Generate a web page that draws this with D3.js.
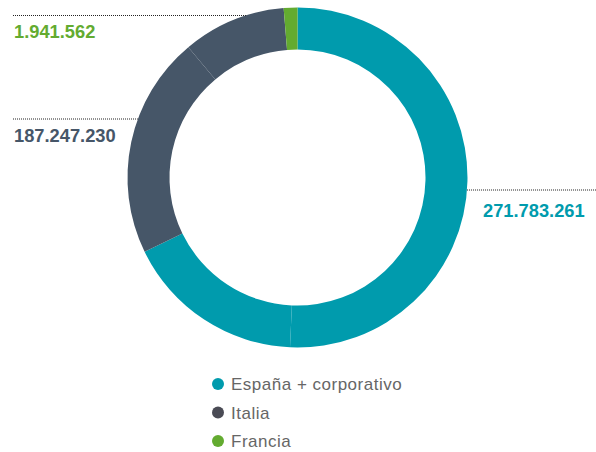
<!DOCTYPE html>
<html>
<head>
<meta charset="utf-8">
<script src="https://cdn.jsdelivr.net/npm/d3@7"></script>
<style>
  html, body { margin: 0; padding: 0; background: #fff; }
  svg { display: block; }
</style>
</head>
<body>
<svg id="chart" width="596" height="452"></svg>
<script>
// categories and totals shown in the labels
var categories = ["España + corporativo", "Italia", "Francia"];
var totals = [271783261, 187247230, 1941562];
var colors = ["#009bad", "#465668", "#63ab30"];
var legendColors = ["#009bad", "#4a4b55", "#63ab30"];

// the ring is drawn from sub-slices (share of the circle, in %)
var sliceCategory = [0, 0, 1, 1, 2];
var sliceShare = [50.7, 17.1, 21.1, 9.8, 1.3];

var svg = d3.select("#chart");
var cx = 297.5, cy = 177.5, outerR = 170, innerR = 128;

var es = d3.formatLocale({decimal: ",", thousands: ".", grouping: [3], currency: ["", " €"]});
var fmt = es.format(",");

var slices = sliceShare.map(function(v, i) { return {share: v, cat: sliceCategory[i]}; });
var pie = d3.pie().sort(null).value(function(d) { return d.share; });
var arc = d3.arc().innerRadius(innerR).outerRadius(outerR);

var ring = svg.append("g").attr("transform", "translate(" + cx + "," + cy + ")");
ring.selectAll("path")
    .data(pie(slices))
    .enter().append("path")
    .attr("d", arc)
    .attr("fill", function(d) { return colors[d.data.cat]; });

// leader lines + value labels
var labelSpec = [
  {cat: 0, lineY: 190, side: "right", textX: 483, textY: 216.5},
  {cat: 1, lineY: 119, side: "left", textX: 14, textY: 141.5},
  {cat: 2, lineY: 15.5, side: "left", textX: 14, textY: 38}
];

labelSpec.forEach(function(s) {
  var dx = Math.sqrt(outerR * outerR - (s.lineY - cy) * (s.lineY - cy));
  var x1 = s.side === "left" ? 13 : cx + dx;
  var x2 = s.side === "left" ? cx - dx : 596;
  svg.append("line")
     .attr("x1", x1).attr("x2", x2)
     .attr("y1", s.lineY).attr("y2", s.lineY)
     .attr("stroke", "#222")
     .attr("stroke-width", 1)
     .attr("stroke-dasharray", "1,1");
  svg.append("text")
     .text(fmt(totals[s.cat]))
     .attr("x", s.textX)
     .attr("y", s.textY)
     .attr("fill", colors[s.cat])
     .style("font", "bold 18.3px 'Liberation Sans', Arial, sans-serif");
});

// legend
var legend = svg.append("g");
var legendY = d3.scalePoint().domain(categories).range([384, 441]);
categories.forEach(function(c, i) {
  legend.append("circle")
        .attr("cx", 218)
        .attr("cy", legendY(c))
        .attr("r", 6)
        .attr("fill", legendColors[i]);
  legend.append("text")
        .text(c)
        .attr("x", 231)
        .attr("y", legendY(c) + 6)
        .attr("fill", "#666")
        .style("font", "17px 'Liberation Sans', Arial, sans-serif")
        .style("letter-spacing", "0.5px");
});
</script>
</body>
</html>
